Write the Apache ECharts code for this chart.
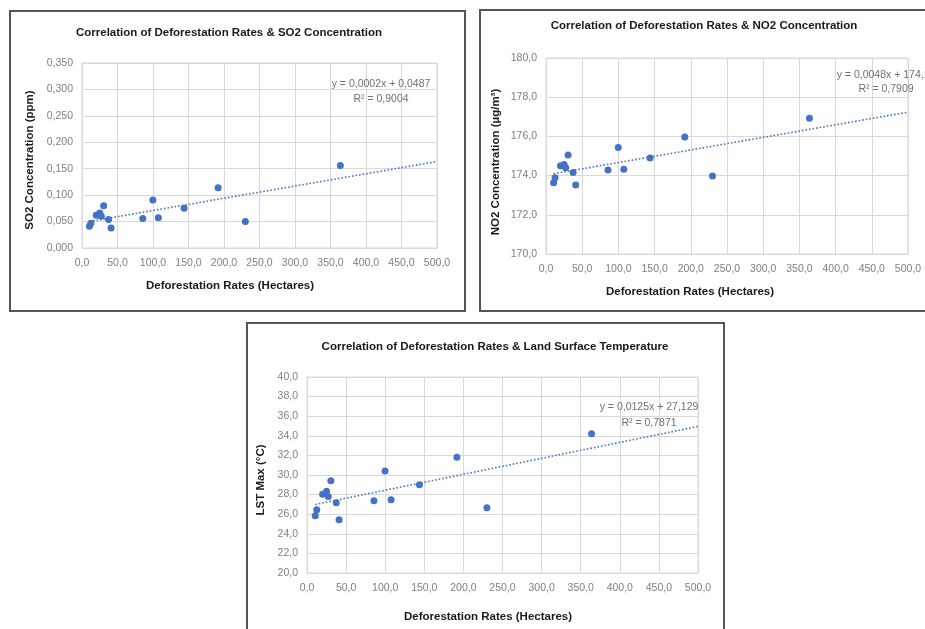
<!DOCTYPE html>
<html>
<head>
<meta charset="utf-8">
<script src="https://cdn.jsdelivr.net/npm/echarts@6/dist/echarts.min.js"></script>
<style>
html,body{margin:0;padding:0;background:#fff;}
#c{width:925px;height:629px;}
</style>
</head>
<body>
<div id="c"></div>
<script>
// ---- data ----
var deforestation = [10.5, 12.5, 20, 25, 27.2, 30.5, 37.4, 41, 85.6, 99.8, 107.5, 143.8, 191.7, 230, 363.9];
var so2 = [0.041, 0.047, 0.062, 0.066, 0.060, 0.080, 0.054, 0.038, 0.056, 0.091, 0.057, 0.075, 0.114, 0.050, 0.156];
var no2 = [173.63, 173.89, 174.5, 174.57, 174.4, 175.05, 174.16, 173.52, 174.28, 175.43, 174.32, 174.9, 175.97, 173.98, 176.93];
var lst = [25.85, 26.46, 28.03, 28.33, 27.8, 29.42, 27.18, 25.44, 27.38, 30.41, 27.48, 29.01, 31.8, 26.67, 34.22];
var titles = [
  'Correlation of Deforestation Rates & SO2 Concentration',
  'Correlation of Deforestation Rates & NO2 Concentration',
  'Correlation of Deforestation Rates & Land Surface Temperature'
];
var xName = 'Deforestation Rates (Hectares)';
var yNames = ['SO2 Concentration (ppm)', 'NO2 Concentration (µg/m³)', 'LST Max (°C)'];
var equations = ['y = 0,0002x + 0,0487', 'y = 0,0048x + 174,12', 'y = 0,0125x + 27,129'];
var r2Labels = ['R² = 0,9004', 'R² = 0,7909', 'R² = 0,7871'];

// ---- helpers ----
function pairs(xs, ys) { return xs.map(function (x, i) { return [x, ys[i]]; }); }
function trend(xs, ys, xEnd) {
  var n = xs.length, sx = 0, sy = 0, sxx = 0, sxy = 0;
  for (var i = 0; i < n; i++) { sx += xs[i]; sy += ys[i]; sxx += xs[i] * xs[i]; sxy += xs[i] * ys[i]; }
  var b = (n * sxy - sx * sy) / (n * sxx - sx * sx);
  var a = (sy - b * sx) / n;
  var x0 = Math.min.apply(null, xs);
  return [[x0, a + b * x0], [xEnd, a + b * xEnd]];
}
function comma(v, d) { return v.toFixed(d).replace('.', ','); }

var BLUE = '#4472c4';
var GRID_C = '#d9d9d9';
var LABEL_C = '#808080';
var TICK_FONT = '"Liberation Sans Narrow", "Liberation Sans", Arial, sans-serif';
var BOLD_FONT = '"Liberation Sans", Arial, sans-serif';

var grids = [
  {left: 82, top: 63, width: 355, height: 185},
  {left: 546, top: 58, width: 362, height: 196},
  {left: 307, top: 377, width: 391, height: 196}
];
var yRanges = [[0, 0.35, 0.05, 3], [170, 180, 2, 1], [20, 40, 2, 1]];
var ySeries = [so2, no2, lst];

var option = {
  animation: false,
  backgroundColor: '#fff',
  grid: grids.map(function (g) {
    return Object.assign({show: true, borderColor: GRID_C, borderWidth: 1, backgroundColor: 'transparent'}, g);
  }),
  xAxis: [0, 1, 2].map(function (i) {
    return {
      type: 'value', gridIndex: i, min: 0, max: 500, interval: 50,
      axisLine: {show: true, lineStyle: {color: GRID_C, width: 1}},
      axisTick: {show: false},
      splitLine: {show: true, lineStyle: {color: GRID_C, width: 1}},
      axisLabel: {color: LABEL_C, fontFamily: TICK_FONT, fontSize: 10.5, margin: 10,
        formatter: function (v) { return comma(v, 1); }}
    };
  }),
  yAxis: [0, 1, 2].map(function (i) {
    var r = yRanges[i];
    return {
      type: 'value', gridIndex: i, min: r[0], max: r[1], interval: r[2],
      axisLine: {show: true, lineStyle: {color: GRID_C, width: 1}},
      axisTick: {show: false},
      splitLine: {show: true, lineStyle: {color: GRID_C, width: 1}},
      axisLabel: {color: LABEL_C, fontFamily: TICK_FONT, fontSize: 10.5, margin: 9,
        formatter: function (v) { return comma(v, r[3]); }}
    };
  }),
  series: [],
  graphic: []
};

[0, 1, 2].forEach(function (i) {
  option.series.push({
    type: 'line', xAxisIndex: i, yAxisIndex: i, data: trend(deforestation, ySeries[i], 500),
    symbol: 'none', silent: true, z: 1,
    lineStyle: {color: BLUE, width: 1.6, type: [1.6, 2]}
  });
  option.series.push({
    type: 'scatter', xAxisIndex: i, yAxisIndex: i, data: pairs(deforestation, ySeries[i]),
    symbolSize: 7, itemStyle: {color: BLUE, opacity: 1}, z: 2
  });
});

// boxes
var boxes = [
  {x: 10, y: 11, w: 455, h: 300},
  {x: 480, y: 10, w: 470, h: 301},
  {x: 247, y: 323, w: 477, h: 320}
];
boxes.forEach(function (b) {
  option.graphic.push({type: 'rect', shape: {x: b.x, y: b.y, width: b.w, height: b.h},
    style: {fill: 'none', stroke: '#555', lineWidth: 2}, z: 0});
});

var titlePos = [[229, 33], [704, 26], [495, 347]];
var xNamePos = [[230, 286], [690, 292], [488, 617]];
var yNamePos = [[30, 160], [496, 162], [261, 480]];
var eqPos = [[381, 84, 99], [886, 75, 89], [649, 407, 423]];

[0, 1, 2].forEach(function (i) {
  option.graphic.push({type: 'text', x: titlePos[i][0], y: titlePos[i][1], z: 5,
    style: {text: titles[i], font: 'bold 11.5px ' + BOLD_FONT, fill: '#1a1a1a', align: 'center', verticalAlign: 'middle'}});
  option.graphic.push({type: 'text', x: xNamePos[i][0], y: xNamePos[i][1], z: 5,
    style: {text: xName, font: 'bold 11.5px ' + BOLD_FONT, fill: '#1a1a1a', align: 'center', verticalAlign: 'middle'}});
  option.graphic.push({type: 'text', x: yNamePos[i][0], y: yNamePos[i][1], rotation: Math.PI / 2, z: 5,
    style: {text: yNames[i], font: 'bold 11.5px ' + BOLD_FONT, fill: '#1a1a1a', align: 'center', verticalAlign: 'middle'}});
  option.graphic.push({type: 'text', x: eqPos[i][0], y: eqPos[i][1], z: 5,
    style: {text: equations[i], font: '10.5px ' + TICK_FONT, fill: '#707070', align: 'center', verticalAlign: 'middle'}});
  option.graphic.push({type: 'text', x: eqPos[i][0], y: eqPos[i][2], z: 5,
    style: {text: r2Labels[i], font: '10.5px ' + TICK_FONT, fill: '#707070', align: 'center', verticalAlign: 'middle'}});
});

var chart = echarts.init(document.getElementById('c'), null, {renderer: 'canvas'});
chart.setOption(option);
</script>
</body>
</html>
